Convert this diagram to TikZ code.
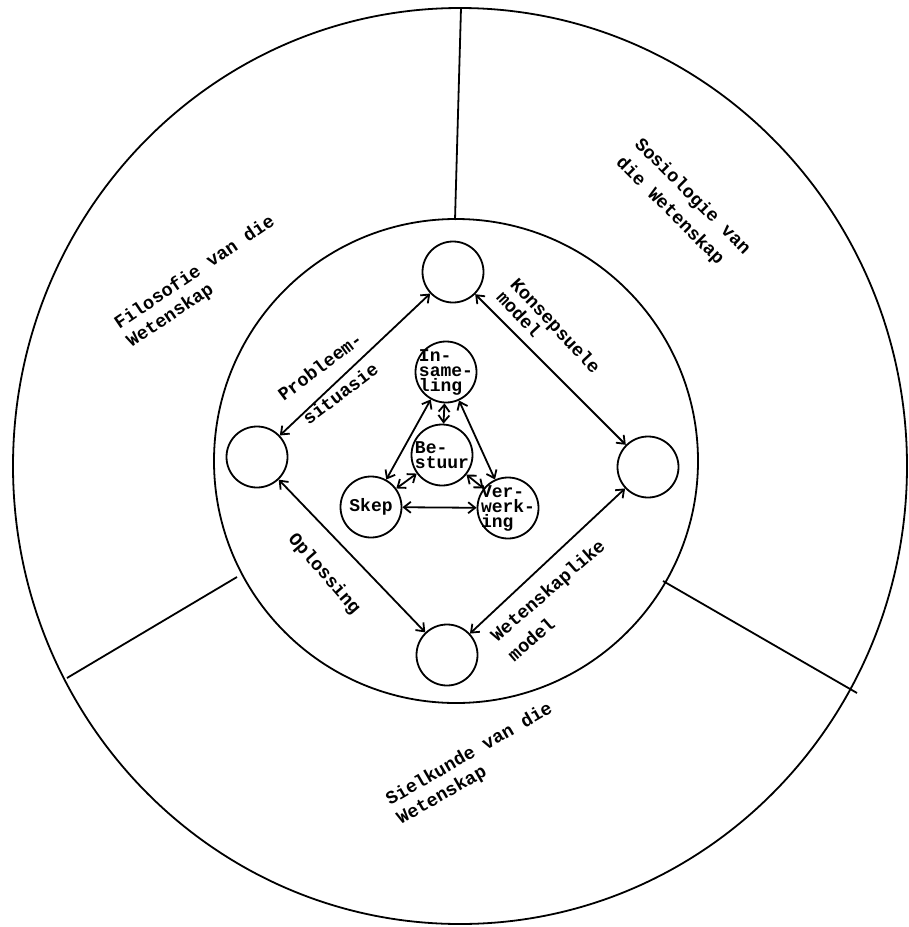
\documentclass[tikz,border=0pt]{standalone}
\usepackage{fontspec}
\setmonofont{Liberation Mono}
\usetikzlibrary{arrows.meta}

\begin{document}
\begin{tikzpicture}[
  x=1pt, y=-1pt,
  line width=1.8pt,
  every node/.style={font=\ttfamily\bfseries\fontsize{18.5}{22}\selectfont},
  bubble/.style={draw, circle, minimum size=61pt, inner sep=0pt},
  link/.style={draw, {Straight Barb[length=7pt,width=11pt]}-{Straight Barb[length=7pt,width=11pt]}},
  field/.style={align=left},
  bubble text/.style={align=left, font=\ttfamily\bfseries\fontsize{18}{15}\selectfont}
]
\useasboundingbox (0,0) rectangle (909,927);

% ringe en verdeling
\draw (460,466) ellipse [x radius=447pt, y radius=458pt];
\draw (456,461) circle [radius=242pt];
\coordinate (topout) at (461,8);
\coordinate (topin) at (455,220);
\coordinate (leftin) at (237,577);
\coordinate (leftout) at (67,678);
\coordinate (rightin) at (663,581);
\coordinate (rightout) at (857,693);
\draw (topout) -- (topin);
\draw (leftin) -- (leftout);
\draw (rightin) -- (rightout);

\node[field, rotate=34] (filo) at (201,282) {Filosofie van die\\Wetenskap};
\node[field, rotate=-45, font=\ttfamily\bfseries\fontsize{18.5}{26}\selectfont] (sosio) at (683,206) {Sosiologie van\\die Wetenskap};
\node[field, rotate=30] (siel) at (475,764) {Sielkunde van die\\Wetenskap};

% diamant
\node[bubble] (top) at (453,272) {};
\node[bubble] (left) at (257,457) {};
\node[bubble] (right) at (648,467) {};
\node[bubble] (bottom) at (447,655) {};
\draw[link] (top) -- (left);
\draw[link] (top) -- (right);
\draw[link] (right) -- (bottom);
\draw[link] (bottom) -- (left);

\node[align=center, rotate=37, font=\ttfamily\bfseries\fontsize{18.5}{34}\selectfont] (prob) at (330,380) {Probleem-\\situasie};
\node[align=left, rotate=-47, font=\ttfamily\bfseries\fontsize{18.5}{19}\selectfont] (kons) at (549,332) {Konsepsuele\\model};
\node[rotate=-49] (oplos) at (324,574) {Oplossing};
\node[align=left, rotate=41, font=\ttfamily\bfseries\fontsize{18.5}{26}\selectfont] (wet) at (556,600) {Wetenskaplike\\model};

% driehoek
\node[bubble, label={[bubble text]center:In-\\same-\\ling}] (ins) at (446,372) {};
\node[bubble, label={[bubble text]center:Be-\\stuur}] (bes) at (442,455) {};
\node[bubble, label={[bubble text]center:Skep}] (skep) at (371,507) {};
\node[bubble, label={[bubble text]center:Ver-\\werk-\\ing}] (ver) at (508,508) {};
\draw[link] (ins) -- (skep);
\draw[link] (ins) -- (ver);
\draw[link] (ins) -- (bes);
\draw[link] (bes) -- (skep);
\draw[link] (bes) -- (ver);
\draw[link] (skep) -- (ver);

\end{tikzpicture}
\end{document}
